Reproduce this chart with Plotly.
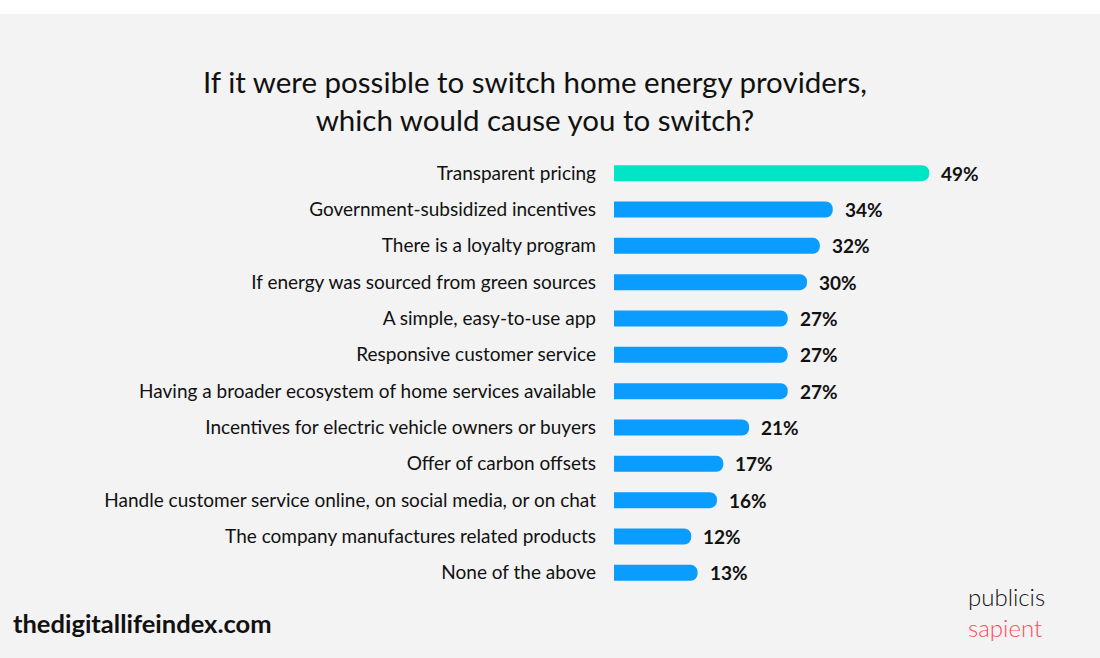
import plotly.graph_objects as go

categories = [
    "Transparent pricing",
    "Government-subsidized incentives",
    "There is a loyalty program",
    "If energy was sourced from green sources",
    "A simple, easy-to-use app",
    "Responsive customer service",
    "Having a broader ecosystem of home services available",
    "Incentives for electric vehicle owners or buyers",
    "Offer of carbon offsets",
    "Handle customer service online, on social media, or on chat",
    "The company manufactures related products",
    "None of the above",
]
values = [49, 34, 32, 30, 27, 27, 27, 21, 17, 16, 12, 13]
highlight = "Transparent pricing"

W, H = 1100, 658
L, R = 614, 100
T, B = 155, 67
pw = W - L - R
ph = H - T - B

def px_x(px):
    return (px - L) / pw

def px_y(py):
    return (H - B - py) / ph

colors = ["#00E5C5" if c == highlight else "#0A9CFF" for c in categories]

fig = go.Figure(go.Bar(
    x=values,
    y=categories,
    orientation="h",
    marker=dict(color=colors, cornerradius=8, line=dict(width=0)),
    width=0.44,
    hoverinfo="skip",
))

annotations = [
    dict(x=v, y=c, xref="x", yref="y", text=f"<b>{v}%</b>", showarrow=False,
         xanchor="left", yanchor="middle", xshift=10,
         font=dict(family="Lato", size=19, color="#111111"))
    for c, v in zip(categories, values)
]

annotations += [
    dict(text="If it were possible to switch home energy providers,<br>which would cause you to switch?",
         xref="paper", yref="paper", x=px_x(535), y=px_y(100),
         xanchor="center", yanchor="middle", showarrow=False, align="center",
         font=dict(family="Lato", size=29.5, color="#111111")),
    dict(text="<b>thedigitallifeindex.com</b>",
         xref="paper", yref="paper", x=px_x(11), y=px_y(623),
         xanchor="left", yanchor="middle", showarrow=False,
         font=dict(family="Lato", size=25.5, color="#111111")),
    dict(text="publicis<br><span style='color:#FF4B5C'>sapient</span>",
         xref="paper", yref="paper", x=px_x(966), y=px_y(612),
         xanchor="left", yanchor="middle", showarrow=False, align="left",
         font=dict(family="Lato", size=24, color="#111111", weight=300)),
]

fig.update_layout(
    width=W, height=H,
    margin=dict(l=L, r=R, t=T, b=B),
    paper_bgcolor="#F3F3F3",
    plot_bgcolor="#F3F3F3",
    showlegend=False,
    xaxis=dict(range=[0, 60], visible=False, fixedrange=True),
    yaxis=dict(
        categoryorder="array",
        categoryarray=categories[::-1],
        showgrid=False, zeroline=False, showline=False, ticks="",
        ticklabelstandoff=17,
        tickfont=dict(family="Lato", size=19, color="#111111"),
        fixedrange=True,
    ),
    font=dict(family="Lato"),
    shapes=[dict(
        type="rect", xref="paper", yref="paper",
        x0=px_x(0), x1=px_x(W), y0=px_y(14), y1=px_y(0),
        fillcolor="#FFFFFF", line=dict(width=0), layer="below",
    )],
    annotations=annotations,
)

fig.write_html("out.html")
